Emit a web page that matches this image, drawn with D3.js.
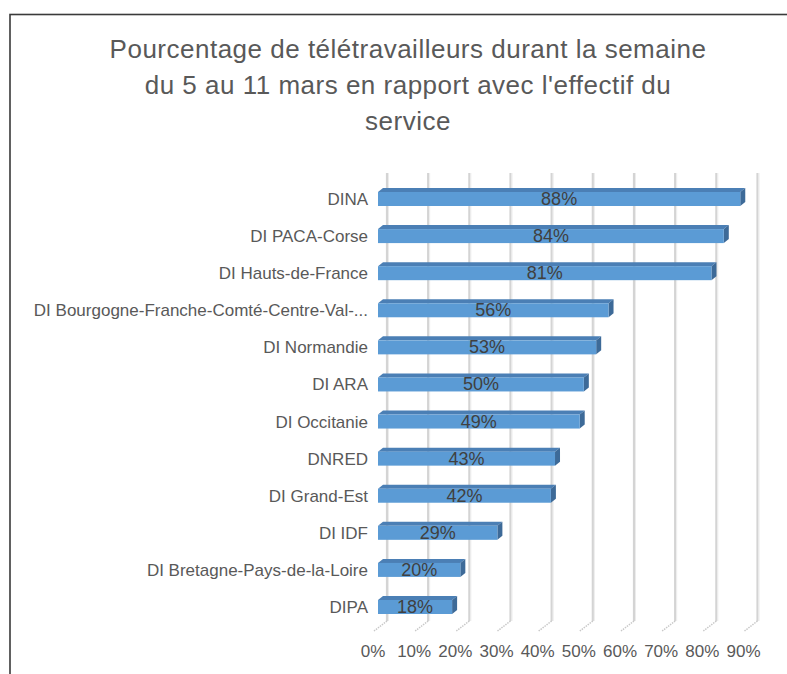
<!DOCTYPE html>
<html><head><meta charset="utf-8">
<script src="https://cdn.jsdelivr.net/npm/d3@7"></script>
<style>
html,body{margin:0;padding:0;background:#fff;}
svg{display:block;}
</style></head>
<body>
<svg id="chart" width="787" height="674"></svg>
<script>
const categories = ["DINA","DI PACA-Corse","DI Hauts-de-France","DI Bourgogne-Franche-Comté-Centre-Val-...","DI Normandie","DI ARA","DI Occitanie","DNRED","DI Grand-Est","DI IDF","DI Bretagne-Pays-de-la-Loire","DIPA"];
const values = [88,84,81,56,53,50,49,43,42,29,20,18];
const tickValues = [0,10,20,30,40,50,60,70,80,90];
const titleLines = ["Pourcentage de télétravailleurs durant la semaine","du 5 au 11 mars en rapport avec l'effectif du","service"];

const FONT = "'Liberation Sans Narrow','Arial Narrow','Liberation Sans',sans-serif";
const svg = d3.select("#chart");

// frame
svg.append("rect").attr("x",10).attr("y",14.5).attr("width",800).attr("height",700)
  .attr("fill","none").attr("stroke","#3a3a3a").attr("stroke-width",1.6);

// title
svg.append("g").selectAll("text").data(titleLines).join("text")
  .attr("x",408).attr("y",(d,i)=>58+i*36)
  .attr("text-anchor","middle").attr("font-family",FONT).attr("font-size",26)
  .attr("letter-spacing",0.5)
  .attr("fill","#595959").text(d=>d);

const x = d3.scaleLinear().domain([0,90]).range([378,748.5]);
const y = d3.scalePoint().domain(categories).range([199,607]);
const depthX = 9;
const barH = 14, bdx = 5, bdy = -4;

// back-wall gridlines
const grid = svg.append("g");
tickValues.forEach(t=>{
  const xb = x(t)+depthX;
  grid.append("line").attr("x1",xb).attr("x2",xb).attr("y1",173).attr("y2",621)
    .attr("stroke","#d4d4d4").attr("stroke-width",2.2);
  grid.append("line").attr("x1",xb+1.5).attr("x2",xb+1.5).attr("y1",173).attr("y2",621)
    .attr("stroke","#ececec").attr("stroke-width",1);
  grid.append("line").attr("x1",xb).attr("x2",xb-13).attr("y1",621).attr("y2",631)
    .attr("stroke","#c8c8c8").attr("stroke-width",1.5).attr("stroke-dasharray","1.5,1");
});

// bars (pseudo-3D)
const bars = svg.append("g").selectAll("g").data(categories).join("g");
bars.each(function(c,i){
  const g = d3.select(this);
  const x0 = x(0), x1 = x(values[i]);
  const yt = y(c)-barH/2, yb = y(c)+barH/2;
  g.append("path").attr("d",`M${x0},${yt} L${x0+bdx},${yt+bdy} L${x1+bdx},${yt+bdy} L${x1},${yt} Z`)
    .attr("fill","#4b7fb5");
  g.append("path").attr("d",`M${x1},${yt} L${x1+bdx},${yt+bdy} L${x1+bdx},${yb+bdy} L${x1},${yb} Z`)
    .attr("fill","#3d6a98");
  g.append("rect").attr("x",x0).attr("y",yt).attr("width",x1-x0).attr("height",barH)
    .attr("fill","#5b9bd5");
  g.append("text").attr("x",(x0+x1)/2).attr("y",y(c)+6)
    .attr("text-anchor","middle").attr("font-family",FONT).attr("font-size",18)
    .attr("fill","#404040").text(values[i]+"%");
});

// category labels
svg.append("g").selectAll("text").data(categories).join("text")
  .attr("x",368).attr("y",d=>y(d)+6)
  .attr("text-anchor","end").attr("font-family",FONT).attr("font-size",17)
  .attr("fill","#595959").text(d=>d);

// x axis tick labels
svg.append("g").selectAll("text").data(tickValues).join("text")
  .attr("x",d=>x(d)-5).attr("y",657)
  .attr("text-anchor","middle").attr("font-family",FONT).attr("font-size",17)
  .attr("fill","#595959").text(d=>d+"%");
</script>
</body></html>
